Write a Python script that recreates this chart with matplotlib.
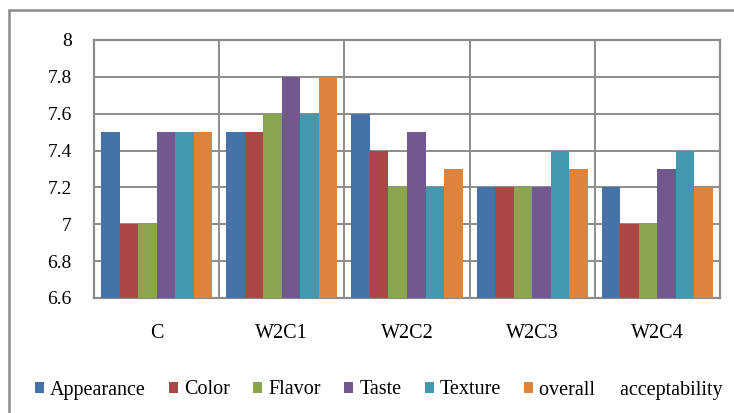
import matplotlib
matplotlib.use("Agg")
import matplotlib.pyplot as plt
import numpy as np
from matplotlib.patches import Rectangle
from matplotlib.ticker import FuncFormatter

samples = ["C", "W2C1", "W2C2", "W2C3", "W2C4"]
attributes = ["Appearance", "Color", "Flavor", "Taste", "Texture", "overall     acceptability"]
appearance = [7.5, 7.5, 7.6, 7.2, 7.2]
color = [7.0, 7.5, 7.4, 7.2, 7.0]
flavor = [7.0, 7.6, 7.2, 7.2, 7.0]
taste = [7.5, 7.8, 7.5, 7.2, 7.3]
texture = [7.5, 7.6, 7.2, 7.4, 7.4]
overall = [7.5, 7.8, 7.3, 7.3, 7.2]
y_ticks = [6.6, 6.8, 7.0, 7.2, 7.4, 7.6, 7.8, 8.0]

series = [appearance, color, flavor, taste, texture, overall]
colors = ["#4572A7", "#AA4643", "#89A54E", "#71588F", "#4198AF", "#DB843D"]

plt.rcParams["font.family"] = ["Liberation Serif", "DejaVu Serif"]

W, H = 734, 413
fig = plt.figure(figsize=(W / 100, H / 100), dpi=100)

# outer chart frame
fig.patches.append(Rectangle((8.5 / W, -0.1), 1.2, 1 - 10 / H + 0.1,
                             transform=fig.transFigure, fill=False,
                             edgecolor="#8a8a8a", linewidth=1.8, zorder=0))

ax = fig.add_axes([94 / W, 1 - 298 / H, (720 - 94) / W, (298 - 40) / H])

n = len(series)
bw = 0.148
x = np.arange(len(samples))
for i, (vals, c, lab) in enumerate(zip(series, colors, attributes)):
    offs = (i - (n - 1) / 2) * bw
    ax.bar(x + offs, np.array(vals) - 6.6, bw, bottom=6.6, color=c,
           label=lab, zorder=3, linewidth=0)

ax.set_xlim(-0.5, len(samples) - 0.5)
ax.set_ylim(6.6, 8.0)
ax.set_yticks(y_ticks)
ax.yaxis.set_major_formatter(FuncFormatter(lambda v, p: f"{v:g}"))
ax.set_xticks(x)
ax.set_xticklabels(samples)
ax.tick_params(axis="x", length=0, pad=19, labelsize=14.5)
ax.tick_params(axis="y", length=0, pad=16, labelsize=14)

grid_c = "#8c8c8c"
for yv in y_ticks[1:]:
    ax.axhline(yv, color=grid_c, linewidth=1.4, zorder=1)
for xv in np.arange(0.5, len(samples) - 0.5, 1):
    ax.axvline(xv, color=grid_c, linewidth=1.4, zorder=1)
for s in ax.spines.values():
    s.set_color(grid_c)
    s.set_linewidth(1.6)

fig.legend(loc="center", bbox_to_anchor=(379 / W, 1 - 390 / H), ncol=6,
           frameon=False, fontsize=14.5, handlelength=0.45, handleheight=0.45,
           handletextpad=0.3, columnspacing=1.15, borderaxespad=0)

fig.savefig("out.png", dpi=100)
